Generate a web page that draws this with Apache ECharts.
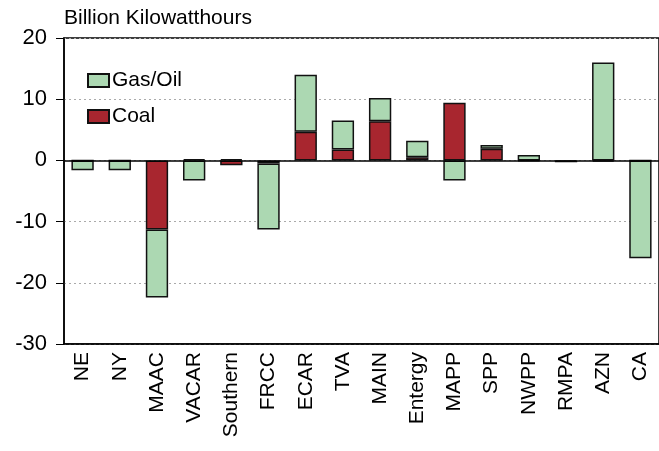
<!DOCTYPE html>
<html lang="en">
<head>
<meta charset="UTF-8">
<title>Billion Kilowatthours</title>
<script src="https://cdn.jsdelivr.net/npm/echarts@6/dist/echarts.min.js"></script>
<style>
  html, body { margin: 0; padding: 0; background: #fff; }
  #chartmain { width: 659px; height: 451px; }
</style>
</head>
<body>
<div id="chartmain"></div>
<script>
// regions along the x axis
var regions = ['NE', 'NY', 'MAAC', 'VACAR', 'Southern', 'FRCC', 'ECAR', 'TVA',
               'MAIN', 'Entergy', 'MAPP', 'SPP', 'NWPP', 'RMPA', 'AZN', 'CA'];
// change in generation, billion kWh
var coal   = [0, 0, -11.3, 0.2, -0.8, -0.5, 4.7, 1.8, 6.4, 0.5, 9.4, 1.9, -0.1, -0.2, -0.2, 0];
var gasOil = [-1.6, -1.6, -11.1, -3.3, 0.2, -10.8, 9.3, 4.7, 3.8, 2.7, -3.3, 0.6, 0.9, 0, 16.0, -16.0];
var yTicks = [20, 10, 0, -10, -20, -30];

var fontName = 'Liberation Sans, Arial, sans-serif';

var myChart = echarts.init(document.getElementById('chartmain'));
myChart.setOption({
    animation: false,
    title: {
        text: 'Billion Kilowatthours',
        left: 64, top: 8, padding: 0,
        textStyle: { fontFamily: fontName, fontSize: 21, fontWeight: 'normal', color: '#000' }
    },
    legend: {
        data: ['Gas/Oil', 'Coal'],
        orient: 'vertical',
        left: 87, top: 70, padding: 0,
        icon: 'rect',
        itemWidth: 21, itemHeight: 13, itemGap: 15,
        textStyle: { fontFamily: fontName, fontSize: 21, color: '#000', padding: [0, 0, 0, -2] }
    },
    grid: {
        left: 64, right: 0, top: 38, bottom: 107,
        show: true, borderColor: '#000', borderWidth: 1.5
    },
    xAxis: {
        type: 'category',
        data: regions,
        axisLine: { onZero: false, lineStyle: { color: '#000', width: 1.5 } },
        axisTick: { show: false },
        axisLabel: {
            rotate: 90, interval: 0, margin: 8,
            fontFamily: fontName, fontSize: 21, color: '#000'
        }
    },
    yAxis: {
        type: 'value',
        min: yTicks[yTicks.length - 1], max: yTicks[0], interval: 10,
        axisLine: { show: true, lineStyle: { color: '#000', width: 1.5 } },
        axisTick: { show: true, length: 8, lineStyle: { color: '#000' } },
        axisLabel: { fontFamily: fontName, fontSize: 22, color: '#000', margin: 17 },
        splitLine: { lineStyle: { color: '#aaa', type: [2, 3], width: 1 } }
    },
    series: [
        {
            name: 'Coal', type: 'bar', stack: 'gen',
            data: coal,
            barCategoryGap: '40%',
            itemStyle: { color: '#a8262f', borderColor: '#111', borderWidth: 1.5 },
            markLine: {
                silent: true, symbol: 'none', label: { show: false },
                lineStyle: { color: '#000', type: 'solid', width: 1.5 },
                data: [{ yAxis: 0 }]
            }
        },
        {
            name: 'Gas/Oil', type: 'bar', stack: 'gen',
            data: gasOil,
            barCategoryGap: '40%',
            itemStyle: { color: '#acd8b2', borderColor: '#111', borderWidth: 1.5 }
        }
    ]
});
</script>
</body>
</html>
